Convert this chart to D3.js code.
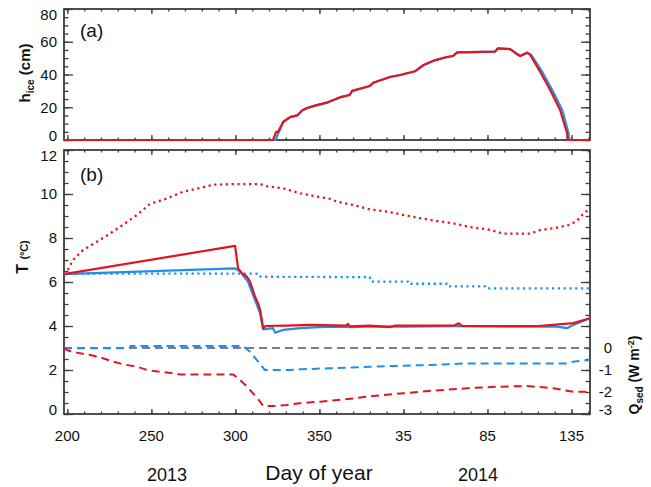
<!DOCTYPE html>
<html>
<head>
<meta charset="utf-8">
<script src="https://cdn.jsdelivr.net/npm/d3@7"></script>
<style>
  body { margin: 0; background: #fff; }
  svg text { font-family: Arial, "Liberation Sans", sans-serif; fill: #111; }
</style>
</head>
<body>
<svg id="chart" width="651" height="487"></svg>
<script>
// ---- data (day of year counted on from 2013, so 400 = day 35 of 2014) ----
var iceRed = [[198,0],[322.4,0],[324.2,5],[325.4,5],[328.4,11],[332.5,14],[336.7,15],[339.7,18],[342.6,19.5],
  [347.4,21],[355,23],[362,26],[368,27.5],[369.5,30],[380,33],[382,35],[392,38.5],[398,39.7],[407,42],
  [412,45.8],[419,48.8],[426,50.7],[429.5,51.3],[432,53.5],[454.5,54],[456.3,56],[463.5,55.5],[467.6,52.5],
  [469.4,51.3],[473.6,53.3],[475.4,52],[481.3,41.7],[487.3,30.5],[493.2,18.3],[497.4,4],[497.6,0],[511,0]];
var iceBlue = [[198,0],[324,0],[325.4,4],[326,5],[328.4,11],[332.5,14],[336.7,15],[339.7,18],[342.6,19.5],
  [347.4,21],[355,23],[362,26],[368,27.5],[369.5,30],[380,33],[382,35],[392,38.5],[398,39.7],[407,42],
  [412,45.8],[419,48.8],[426,50.7],[429.5,51.3],[432,53.5],[454.5,54],[456.3,56],[463.5,55.5],[467.6,52.5],
  [469.4,51.3],[473.6,53.3],[476,52],[482.5,41.7],[488.5,30.5],[494.5,18.3],[498.3,4],[498.6,0],[511,0]];

var tRedDot = [[198,6.35],[199.6,6.47],[203.4,7.0],[209.3,7.45],[217.6,7.83],[225.4,8.2],[233.1,8.6],
  [241.5,9.05],[249.2,9.55],[259.3,9.8],[268.8,10.1],[279,10.27],[286.7,10.42],[298.6,10.45],[314.7,10.45],
  [318.8,10.35],[328.4,10.26],[338.5,10.03],[348.6,9.88],[356.3,9.78],[360.5,9.65],[370,9.5],[380.1,9.3],
  [390.3,9.2],[399.8,9.05],[409.9,8.9],[420,8.77],[429.5,8.67],[439.7,8.5],[449.8,8.4],[459.3,8.2],
  [469.4,8.2],[475.4,8.2],[481.3,8.36],[489.1,8.44],[499.2,8.6],[503.4,8.8],[507,9.1],[511,9.35]];
var tBlueDot = [[198,6.38],[314,6.38],[315,6.24],[380,6.22],[380.5,6.02],[402.8,6.02],[403,5.92],
  [426.6,5.92],[427,5.8],[448.6,5.8],[449,5.71],[511,5.71]];
var tRed = [[198,6.36],[299.8,7.64],[301.6,6.62],[304,6.39],[306.9,6.24],[308.7,6.01],[311.7,5.33],
  [313.5,5.03],[314.7,4.73],[316.5,3.9],[318,4.0],[330,4.02],[345,4.05],[366,4.02],[367,4.1],[368,3.98],
  [380,4.02],[392,3.95],[395,4.02],[430,4.02],[433,4.12],[435,4.0],[480,4.0],[489,4.05],[501,4.13],[511,4.35]];
var tBlue = [[198,6.36],[299.8,6.62],[302.8,6.47],[307.5,6.01],[311.7,5.18],[314.7,4.58],[316.5,3.85],
  [322.4,3.9],[323.6,3.7],[328.4,3.82],[338.5,3.9],[356.3,3.97],[370,3.95],[380,3.98],[400,3.97],
  [430,3.99],[460,3.97],[490,3.98],[497.4,3.9],[501,4.05],[511,4.35]];

var qBlue = [[198,-0.01],[237,-0.01],[237.5,0.09],[304.5,0.09],[308.7,-0.17],[313.5,-0.62],[317.6,-1.0],
  [332.5,-1.0],[338.5,-0.97],[356.3,-0.92],[380,-0.85],[416,-0.77],[438,-0.7],[497.4,-0.7],[501,-0.62],[511,-0.55]];
var qRed = [[198,0],[199.8,-0.1],[205.7,-0.21],[213.5,-0.32],[219.4,-0.42],[227.2,-0.62],[233.1,-0.74],
  [241.5,-0.85],[247.4,-1.0],[255.1,-1.08],[262.9,-1.15],[267,-1.2],[298.6,-1.2],[302.8,-1.45],[306.9,-1.76],
  [310.5,-2.06],[314.7,-2.44],[316.5,-2.64],[322.4,-2.64],[330.7,-2.59],[338.5,-2.51],[350.4,-2.44],
  [370,-2.29],[381.9,-2.18],[399.8,-2.06],[417.6,-1.94],[437.9,-1.83],[455.7,-1.76],[473.6,-1.73],
  [489.1,-1.83],[501,-1.99],[511,-1.99]];
var qZero = [[198,0],[511,0]];

var xTickVals = [200, 250, 300, 350, 400, 450, 500];
var xTickLabels = ["200", "250", "300", "350", "35", "85", "135"];
var yearLabels = ["2013", "2014"];
var iceTicks = [0, 20, 40, 60, 80];
var tTicks = [0, 2, 4, 6, 8, 10, 12];
var qTicks = [-3, -2, -1, 0];

// ---- layout ----
var svg = d3.select("#chart");
var red = "#e3161e", blue = "#1e8ef0", frame = "#3c3c3c";

var x = d3.scaleLinear().domain([198, 511]).range([64, 590]);
var ya = d3.scaleLinear().domain([0, 80]).range([140, 9]);
var yb = d3.scaleLinear().domain([0, 12]).range([414, 150]);
var yq = d3.scaleLinear().domain([-3, 9]).range([414, 150]);

function tickAxis(axis, tx, ty) {
  svg.append("g").attr("transform", "translate(" + tx + "," + ty + ")")
    .call(axis)
    .call(function(s) { s.select(".domain").remove(); s.selectAll("text").remove(); })
    .selectAll("line").attr("stroke", frame).attr("stroke-width", 1.3);
}

// keeps the end labels inside the box, like the original plot
function labelY(s, v) {
  var p = s(v), r = s.range();
  return Math.max(r[1] + 6, Math.min(r[0] - 4, p));
}

function panel(y, majors, minorStep) {
  var r = y.range(), d = y.domain();
  var minors = d3.range(d[0], d[1] + 0.001, minorStep);
  var xMinor = d3.range(200, 511, 10);
  tickAxis(d3.axisBottom(x).tickValues(xMinor).tickSize(-2.5), 0, r[0]);
  tickAxis(d3.axisBottom(x).tickValues(xTickVals).tickSize(-5), 0, r[0]);
  tickAxis(d3.axisTop(x).tickValues(xMinor).tickSize(-2.5), 0, r[1]);
  tickAxis(d3.axisTop(x).tickValues(xTickVals).tickSize(-5), 0, r[1]);
  tickAxis(d3.axisLeft(y).tickValues(minors).tickSize(-4.5), 64, 0);
  tickAxis(d3.axisLeft(y).tickValues(majors).tickSize(-9), 64, 0);
  tickAxis(d3.axisRight(y).tickValues(minors).tickSize(-4.5), 590, 0);
  tickAxis(d3.axisRight(y).tickValues(majors).tickSize(-9), 590, 0);

  svg.append("rect").attr("x", 64).attr("y", r[1]).attr("width", 526).attr("height", r[0] - r[1])
    .attr("fill", "none").attr("stroke", frame).attr("stroke-width", 1.8);

  svg.selectAll(null).data(majors).enter().append("text")
    .attr("x", 57).attr("y", function(v) { return labelY(y, v); })
    .attr("dy", "0.36em").attr("text-anchor", "end")
    .style("font-size", "15px").text(function(v) { return v; });
}

function line(y) {
  return d3.line().x(function(d) { return x(d[0]); }).y(function(d) { return y(d[1]); });
}

function series(data, y, color, dash, width) {
  svg.append("path").datum(data)
    .attr("d", line(y))
    .attr("fill", "none")
    .attr("stroke", color)
    .attr("stroke-width", width)
    .attr("stroke-dasharray", dash)
    .attr("stroke-linejoin", "round");
}

// ---- panel (a) ----
panel(ya, iceTicks, 5);
series(iceBlue, ya, blue, null, 2.2);
series(iceRed, ya, red, null, 2.2);

// ---- panel (b) ----
panel(yb, tTicks, 0.5);
series(qZero, yq, "#555", "8,5", 1.4);
series(tRedDot, yb, red, "2.2,3.6", 2.3);
series(tBlueDot, yb, blue, "2.2,3.6", 2.3);
series(qBlue, yq, blue, "8,5", 2);
series(qRed, yq, red, "8,5", 2);
series(tBlue, yb, blue, null, 2.2);
series(tRed, yb, red, null, 2.2);

// right axis labels (Qsed)
svg.selectAll(null).data(qTicks).enter().append("text")
  .attr("x", 612).attr("y", function(v) { return labelY(yq, v); })
  .attr("dy", "0.36em").attr("text-anchor", "end")
  .style("font-size", "15px").text(function(v) { return v === 0 ? "0" : "-" + Math.abs(v); });

// x labels
svg.selectAll(null).data(xTickVals).enter().append("text")
  .attr("x", function(v) { return x(v); }).attr("y", 441)
  .attr("text-anchor", "middle").style("font-size", "15px")
  .text(function(v, i) { return xTickLabels[i]; });

svg.append("text").attr("x", 167).attr("y", 481).attr("text-anchor", "middle")
  .style("font-size", "18px").text(yearLabels[0]);
svg.append("text").attr("x", 478).attr("y", 481).attr("text-anchor", "middle")
  .style("font-size", "18px").text(yearLabels[1]);
svg.append("text").attr("x", 319).attr("y", 480).attr("text-anchor", "middle")
  .style("font-size", "21px").text("Day of year");

// panel tags
svg.append("text").attr("x", 80).attr("y", 37).style("font-size", "19px").text("(a)");
svg.append("text").attr("x", 80).attr("y", 181).style("font-size", "19px").text("(b)");

// axis titles
var ha = svg.append("text").attr("transform", "translate(30,73) rotate(-90)")
  .attr("text-anchor", "middle").style("font-size", "15px").style("font-weight", "bold");
ha.append("tspan").text("h");
ha.append("tspan").attr("dy", 4).style("font-size", "10px").text("ice");
ha.append("tspan").attr("dy", -4).text(" (cm)");

var ta = svg.append("text").attr("transform", "translate(28,257) rotate(-90)")
  .attr("text-anchor", "middle").style("font-weight", "bold");
ta.append("tspan").style("font-size", "16px").text("T ");
ta.append("tspan").style("font-size", "11px").text("(ºC)");

var qa = svg.append("text").attr("transform", "translate(639,375) rotate(-90)")
  .attr("text-anchor", "middle").style("font-size", "14px").style("font-weight", "bold");
qa.append("tspan").text("Q");
qa.append("tspan").attr("dy", 4).style("font-size", "10px").text("sed");
qa.append("tspan").attr("dy", -4).text(" (W m");
qa.append("tspan").attr("dy", -5).style("font-size", "9px").text("-2");
qa.append("tspan").attr("dy", 5).text(")");
</script>
</body>
</html>
